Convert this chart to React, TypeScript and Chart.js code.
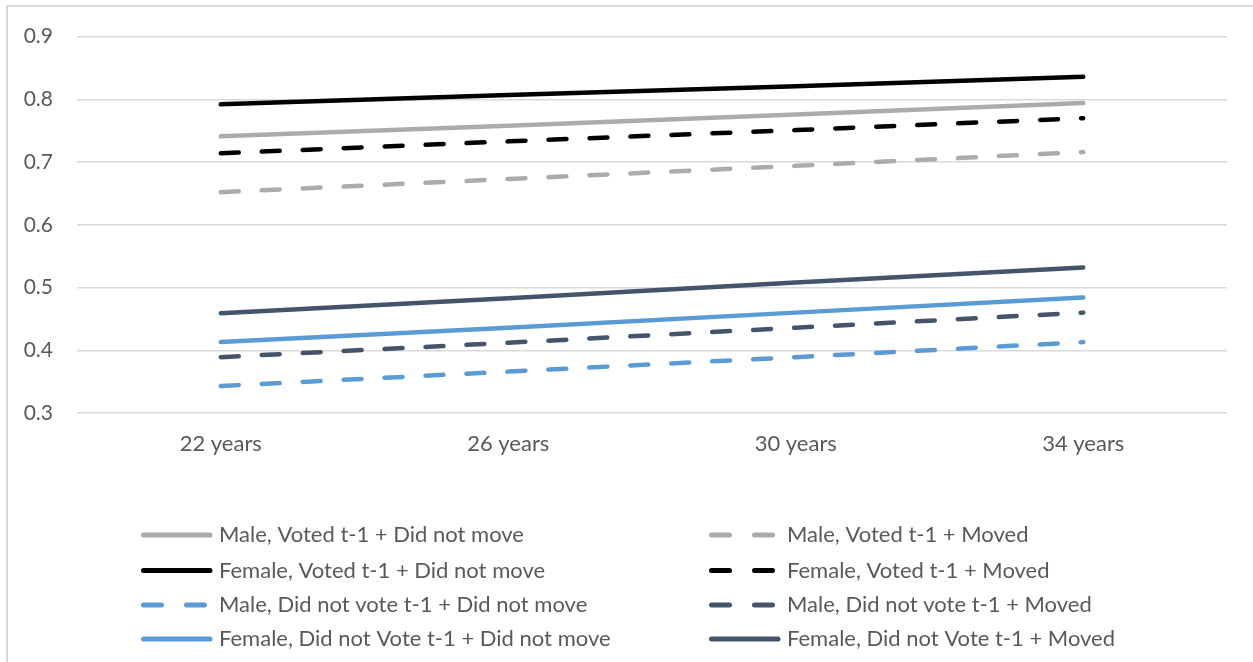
import React, { useEffect, useRef } from "react";
import { Chart, registerables } from "chart.js";

Chart.register(...registerables);

const categories = ["22 years", "26 years", "30 years", "34 years"];
const yTicks = [0.3, 0.4, 0.5, 0.6, 0.7, 0.8, 0.9];

const seriesNames = [
  "Male, Voted t-1 + Did not move",
  "Male, Voted t-1 + Moved",
  "Female, Voted t-1 + Did not move",
  "Female, Voted t-1 + Moved",
  "Male, Did not vote t-1 + Did not move",
  "Male, Did not vote t-1 + Moved",
  "Female, Did not Vote t-1 + Did not move",
  "Female, Did not Vote t-1 + Moved",
];

const maleVotedStay = [0.741, 0.758, 0.776, 0.794];
const maleVotedMoved = [0.652, 0.673, 0.694, 0.716];
const femaleVotedStay = [0.792, 0.807, 0.821, 0.836];
const femaleVotedMoved = [0.714, 0.733, 0.751, 0.77];
const maleNoVoteStay = [0.343, 0.366, 0.389, 0.413];
const maleNoVoteMoved = [0.389, 0.412, 0.436, 0.46];
const femaleNoVoteStay = [0.413, 0.436, 0.46, 0.484];
const femaleNoVoteMoved = [0.459, 0.483, 0.508, 0.532];

const seriesValues = [
  maleVotedStay,
  maleVotedMoved,
  femaleVotedStay,
  femaleVotedMoved,
  maleNoVoteStay,
  maleNoVoteMoved,
  femaleNoVoteStay,
  femaleNoVoteMoved,
];

const GRAY = "#AEAAAA";
const BLACK = "#000000";
const BLUE = "#5B9BD5";
const SLATE = "#44546A";
const seriesColors = [GRAY, GRAY, BLACK, BLACK, BLUE, SLATE, BLUE, SLATE];
const seriesDashed = [false, true, false, true, true, true, false, false];

const DASH = [18, 23];
const FONT = "Lato, 'Open Sans', sans-serif";
const TEXT = "#595959";

const legendPlugin = {
  id: "gridLegend",
  afterDraw(chart: any) {
    const ctx = chart.ctx;
    const ds = chart.data.datasets;
    const sampleX = [141, 709];
    const textX = [219, 787];
    const rowY = [535, 570.5, 605, 639];
    ctx.save();
    ctx.font = "22px " + FONT;
    ctx.textBaseline = "middle";
    ctx.textAlign = "left";
    ds.forEach((d: any, i: number) => {
      const col = i % 2;
      const row = Math.floor(i / 2);
      const x0 = sampleX[col];
      const y = rowY[row];
      ctx.beginPath();
      ctx.strokeStyle = d.borderColor;
      ctx.lineWidth = 5;
      ctx.lineCap = "round";
      ctx.setLineDash(d.borderDash && d.borderDash.length ? [18, 25] : []);
      ctx.moveTo(x0 + 2.5, y);
      ctx.lineTo(x0 + 69, y);
      ctx.stroke();
      ctx.setLineDash([]);
      ctx.fillStyle = TEXT;
      ctx.fillText(d.label, textX[col], y);
    });
    ctx.restore();
  },
};

export default function App() {
  const ref = useRef<HTMLCanvasElement | null>(null);

  useEffect(() => {
    if (!ref.current) return;
    const chart = new Chart(ref.current, {
      type: "line",
      data: {
        labels: categories,
        datasets: seriesValues.map((vals, i) => ({
          label: seriesNames[i],
          data: vals,
          borderColor: seriesColors[i],
          backgroundColor: seriesColors[i],
          borderWidth: 4.5,
          borderDash: seriesDashed[i] ? DASH : [],
          borderCapStyle: "round",
          pointRadius: 0,
          tension: 0,
          fill: false,
        })),
      },
      options: {
        animation: false,
        responsive: false,
        maintainAspectRatio: false,
        layout: { padding: { left: 0, top: 35, right: 26, bottom: 0 } },
        plugins: {
          legend: { display: false },
          tooltip: { enabled: false },
        },
        scales: {
          x: {
            offset: true,
            grid: { display: false, drawTicks: false },
            border: { display: false },
            ticks: {
              color: TEXT,
              font: { family: FONT, size: 22 },
              padding: 18,
            },
            afterFit(scale: any) {
              scale.height = 249;
            },
          },
          y: {
            min: 0.3,
            max: 0.9,
            afterBuildTicks(scale: any) {
              scale.ticks = yTicks.map((v) => ({ value: v }));
            },
            grid: { color: "#D9D9D9", lineWidth: 1.5, drawTicks: false },
            border: { display: false },
            ticks: {
              color: TEXT,
              font: { family: FONT, size: 21 },
              padding: 24,
              callback: (v: any) => Number(v).toFixed(1),
            },
            afterFit(scale: any) {
              scale.width = 77;
            },
          },
        },
      },
      plugins: [legendPlugin],
    });
    return () => chart.destroy();
  }, []);

  return (
    <div
      style={{
        position: "fixed",
        left: 0,
        top: 0,
        width: 1253,
        height: 662,
        overflow: "hidden",
        background: "#fff",
      }}
    >
      <div
        style={{
          position: "absolute",
          left: 6,
          top: 5,
          width: 1300,
          height: 700,
          borderTop: "2px solid #D9D9D9",
          borderLeft: "2px solid #D9D9D9",
        }}
      />
      <canvas
        ref={ref}
        width={1253}
        height={662}
        style={{ position: "absolute", left: 0, top: 0, width: 1253, height: 662 }}
      />
    </div>
  );
}
